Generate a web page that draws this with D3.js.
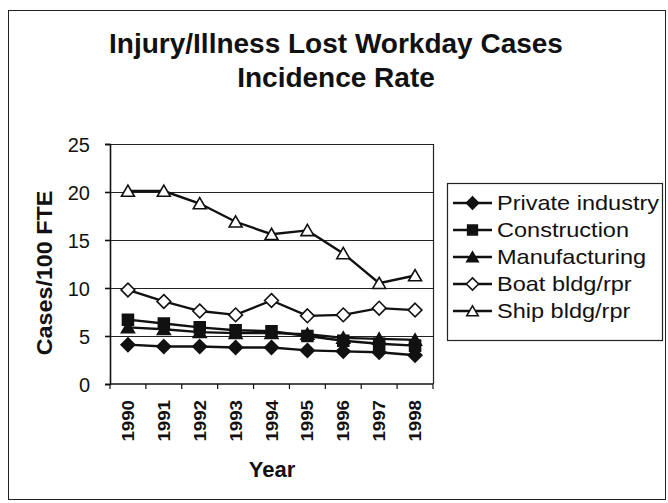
<!DOCTYPE html>
<html>
<head>
<meta charset="utf-8">
<script src="https://cdn.jsdelivr.net/npm/d3@7"></script>
<style>
  body { margin: 0; background: #fff; }
  text { font-family: "Liberation Sans", Arial, sans-serif; fill: #111; }
</style>
</head>
<body>
<svg id="chart" width="668" height="503"></svg>
<script>
// data
var years = ["1990","1991","1992","1993","1994","1995","1996","1997","1998"];
var privateIndustry = [4.1, 3.9, 3.9, 3.8, 3.8, 3.5, 3.4, 3.3, 3.0];
var construction    = [6.7, 6.3, 5.9, 5.6, 5.5, 5.0, 4.5, 4.2, 4.0];
var manufacturing   = [5.9, 5.7, 5.4, 5.3, 5.3, 5.2, 4.8, 4.7, 4.6];
var boatBldg        = [9.8, 8.6, 7.6, 7.2, 8.7, 7.1, 7.2, 7.9, 7.7];
var shipBldg        = [20.1, 20.1, 18.8, 16.9, 15.6, 16.0, 13.6, 10.5, 11.3];
var yTicks = [0, 5, 10, 15, 20, 25];

var series = [
  {name: "Private industry", values: privateIndustry, shape: "diamond", fill: "#111"},
  {name: "Construction", values: construction, shape: "square", fill: "#111"},
  {name: "Manufacturing", values: manufacturing, shape: "triangle", fill: "#111"},
  {name: "Boat bldg/rpr", values: boatBldg, shape: "diamond", fill: "#fff"},
  {name: "Ship bldg/rpr", values: shipBldg, shape: "triangle", fill: "#fff"}
];

var svg = d3.select("#chart");

// stretch a text horizontally (the scanned font is wider than Liberation)
function stretch(sel, k){
  sel.each(function(){
    var w = this.getComputedTextLength();
    d3.select(this).attr("textLength", w*k).attr("lengthAdjust","spacingAndGlyphs");
  });
}

// outer frame
svg.append("rect").attr("x",8.5).attr("y",10.5).attr("width",657).attr("height",489)
   .attr("fill","none").attr("stroke","#222").attr("stroke-width",1);

// title
svg.append("text").attr("x",336).attr("y",53).attr("text-anchor","middle")
   .style("font-size","28px").style("font-weight","bold").text("Injury/Illness Lost Workday Cases");
svg.append("text").attr("x",336).attr("y",87).attr("text-anchor","middle")
   .style("font-size","28px").style("font-weight","bold").text("Incidence Rate");

var plotL = 110, plotR = 433, plotT = 144, plotB = 384;

var x = d3.scaleBand().domain(years).range([plotL, plotR]);
var y = d3.scaleLinear().domain([0, 25]).range([plotB, plotT]);

// gridlines
svg.append("g").selectAll("line").data(yTicks.filter(function(d){return d>0;}))
  .enter().append("line")
  .attr("x1",plotL).attr("x2",plotR)
  .attr("y1",function(d){return Math.round(y(d))+0.5;})
  .attr("y2",function(d){return Math.round(y(d))+0.5;})
  .attr("stroke","#222").attr("stroke-width",1.2);

// right border of plot
svg.append("line").attr("x1",plotR+0.5).attr("x2",plotR+0.5).attr("y1",plotT).attr("y2",plotB)
   .attr("stroke","#222").attr("stroke-width",1.2);

// y axis
var yAxis = svg.append("g").attr("transform","translate("+plotL+",0)")
  .call(d3.axisLeft(y).tickValues(yTicks).tickSize(5).tickPadding(15));
yAxis.selectAll("text").style("font-size","20px").attr("fill","#111").attr("dy","0.36em");
yAxis.selectAll("line,path").attr("stroke","#111").attr("stroke-width",1.6);

// x axis, ticks between categories
var xAxisG = svg.append("g").attr("transform","translate(0,"+plotB+")");
xAxisG.append("line").attr("x1",plotL).attr("x2",plotR).attr("stroke","#111").attr("stroke-width",1.6);
xAxisG.selectAll(".tk").data(years.concat(["end"])).enter().append("line")
  .attr("x1",function(d,i){return plotL + i*x.step();})
  .attr("x2",function(d,i){return plotL + i*x.step();})
  .attr("y1",0).attr("y2",5).attr("stroke","#111").attr("stroke-width",1.2);
xAxisG.selectAll(".lbl").data(years).enter().append("text")
  .attr("transform",function(d){return "translate("+(x(d)+x.bandwidth()/2+6)+",16) rotate(-90)";})
  .attr("text-anchor","end")
  .style("font-size","17px").style("font-weight","bold")
  .text(function(d){return d;})
  .call(stretch, 1.1);

// axis titles
svg.append("text").attr("x",272).attr("y",477).attr("text-anchor","middle")
   .style("font-size","22px").style("font-weight","bold").text("Year");
svg.append("text").attr("transform","translate(52,273) rotate(-90)").attr("text-anchor","middle")
   .style("font-size","22px").style("font-weight","bold").text("Cases/100 FTE")
   .call(stretch, 1.06);

function symbolFor(s, big){
  var k = big ? 1 : 0.8;
  if (s.shape === "diamond") return d3.symbol().type(d3.symbolDiamond2).size(120*k);
  if (s.shape === "square") return d3.symbol().type(d3.symbolSquare).size(120*k);
  return d3.symbol().type(d3.symbolTriangle2).size(120*k);
}

var line = d3.line()
  .x(function(d,i){return x(years[i]) + x.bandwidth()/2;})
  .y(function(d){return y(d);});

series.forEach(function(s){
  svg.append("path").datum(s.values).attr("d",line)
    .attr("fill","none").attr("stroke","#111").attr("stroke-width",2.4);
});
series.forEach(function(s){
  svg.append("g").selectAll("path").data(s.values).enter().append("path")
    .attr("d", symbolFor(s, true))
    .attr("transform",function(d,i){
      var dy = s.shape === "triangle" ? 1.5 : 0;
      return "translate("+(x(years[i])+x.bandwidth()/2)+","+(y(d)+dy)+")";})
    .attr("fill",s.fill).attr("stroke","#111").attr("stroke-width",1.6);
});

// legend
var lg = svg.append("g");
lg.append("rect").attr("x",447.5).attr("y",183.5).attr("width",215).attr("height",157)
  .attr("fill","#fff").attr("stroke","#222").attr("stroke-width",1.2);
series.forEach(function(s,i){
  var cy = 203 + i*27;
  lg.append("line").attr("x1",453).attr("x2",492).attr("y1",cy).attr("y2",cy)
    .attr("stroke","#111").attr("stroke-width",2.4);
  lg.append("path").attr("d",symbolFor(s, false))
    .attr("transform","translate(472.5,"+(cy + (s.shape==="triangle"?1.5:0))+")")
    .attr("fill",s.fill).attr("stroke","#111").attr("stroke-width",1.5);
  lg.append("text").attr("x",497).attr("y",cy+7).style("font-size","21px").text(s.name)
    .call(stretch, 1.12);
});
</script>
</body>
</html>
